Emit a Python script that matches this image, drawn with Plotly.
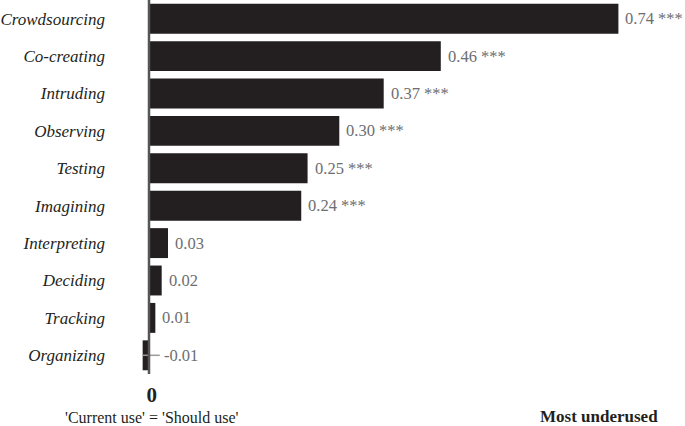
import plotly.graph_objects as go

categories = ["Crowdsourcing", "Co-creating", "Intruding", "Observing", "Testing",
              "Imagining", "Interpreting", "Deciding", "Tracking", "Organizing"]
values = [0.74, 0.46, 0.37, 0.30, 0.25, 0.24, 0.03, 0.02, 0.01, -0.01]
stars = ["***", "***", "***", "***", "***", "***", "", "", "", ""]

serif = "Liberation Serif, Times New Roman, serif"
bar_color = "#231f20"
label_color = "#6d6e71"

fig = go.Figure()
fig.add_bar(
    x=values, y=categories, orientation="h",
    marker=dict(color=bar_color, line=dict(width=0)),
    width=0.8, showlegend=False, hoverinfo="skip",
)

# value labels right of each bar
for cat, v, s in zip(categories, values, stars):
    txt = f"{v:.2f}" + (f" {s}" if s else "")
    if v < 0:
        fig.add_shape(type="line", x0=v, x1=0.017, y0=cat, y1=cat,
                      line=dict(color="#9a9a9a", width=1.5))
        fig.add_annotation(x=0, y=cat, text=txt, showarrow=False, xanchor="left",
                           xshift=13, font=dict(family=serif, size=16.5, color=label_color))
    else:
        fig.add_annotation(x=v, y=cat, text=txt, showarrow=False, xanchor="left",
                           xshift=5, font=dict(family=serif, size=16.5, color=label_color))

# zero line
fig.add_shape(type="line", x0=0, x1=0, y0=0, y1=1.0, xref="x", yref="paper",
              line=dict(color="#555555", width=2.5))

# "0" and its meaning, below the zero line
fig.add_annotation(x=0, y=-0.081, xref="x", yref="paper",
                   text="<span style='font-size:21px'><b>0</b></span><br>'Current use' = 'Should use'",
                   showarrow=False, xshift=3, yanchor="middle", align="center",
                   font=dict(family=serif, size=16, color="#231f20"))
fig.add_annotation(x=1, y=-0.113, xref="paper", yref="paper", text="<b>Most underused</b>",
                   showarrow=False, xanchor="right", xshift=-25, yanchor="middle",
                   font=dict(family=serif, size=17, color="#231f20"))

fig.update_xaxes(range=[-0.0536, 0.845], visible=False, showgrid=False, zeroline=False)
fig.update_yaxes(range=[9.5, -0.5], showgrid=False, zeroline=False, showline=False,
                 ticks="", ticklabelstandoff=9,
                 tickfont=dict(family=serif, size=17, color="#231f20", style="italic"))

fig.update_layout(
    width=685, height=426,
    margin=dict(l=115, r=0, t=0, b=52, autoexpand=False),
    plot_bgcolor="white", paper_bgcolor="white",
)

fig.write_html("out.html", config={"displayModeBar": False},
               post_script="document.body.style.margin='0';")
